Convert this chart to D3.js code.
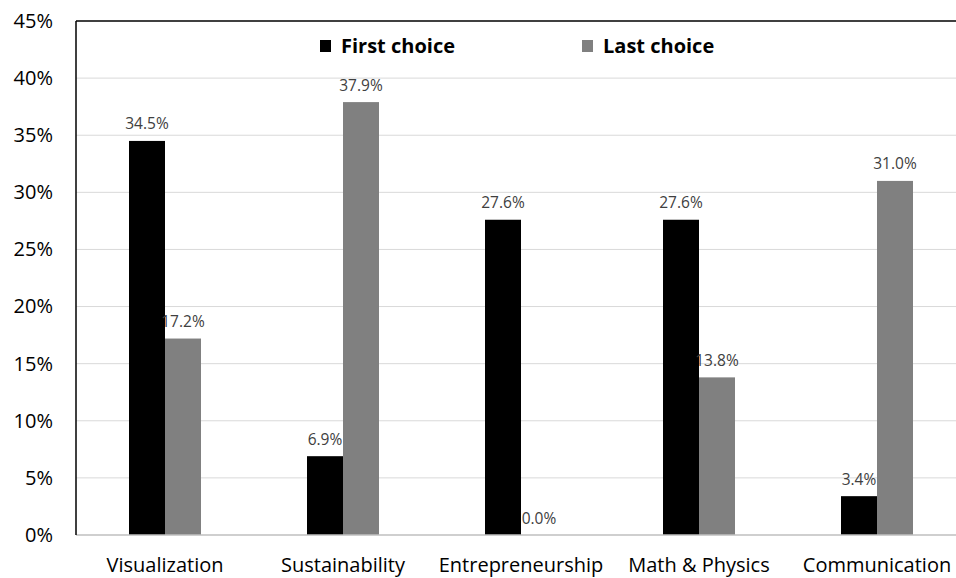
<!DOCTYPE html>
<html>
<head>
<meta charset="utf-8">
<script src="https://cdn.jsdelivr.net/npm/d3@7"></script>
<style>
  body { margin: 0; background: #fff; }
  svg { display: block; font-family: "Open Sans", sans-serif; }
</style>
</head>
<body>
<div id="chart"></div>
<script>
// chart data
const categories = ["Visualization", "Sustainability", "Entrepreneurship", "Math & Physics", "Communication"];
const seriesNames = ["First choice", "Last choice"];
const firstChoice = [34.5, 6.9, 27.6, 27.6, 3.4];
const lastChoice = [17.2, 37.9, 0.0, 13.8, 31.0];
const yTicks = [0, 5, 10, 15, 20, 25, 30, 35, 40, 45];
const colors = ["#000000", "#808080"];

const width = 956, height = 578;
const margin = {top: 21, right: -10, bottom: 43, left: 76};
const innerW = width - margin.left - margin.right;
const innerH = height - margin.top - margin.bottom;

const svg = d3.select('#chart').append('svg')
    .attr('width', width)
    .attr('height', height);

const g = svg.append('g')
    .attr('transform', 'translate(' + margin.left + ',' + margin.top + ')');

const x = d3.scaleBand().domain(categories).range([0, innerW]).paddingInner(0).paddingOuter(0);
const y = d3.scaleLinear().domain([0, 45]).range([innerH, 0]);
const barW = 36;

// gridlines
g.selectAll('.grid').data(yTicks.slice(1, -1)).enter().append('line')
    .attr('x1', 0).attr('x2', innerW)
    .attr('y1', d => y(d)).attr('y2', d => y(d))
    .attr('stroke', '#d9d9d9').attr('stroke-width', 1);

// y axis labels
const yAxis = d3.axisLeft(y).tickValues(yTicks).tickFormat(d => d + '%').tickSize(0).tickPadding(23);
g.append('g').call(yAxis)
    .call(a => a.select('.domain').remove())
    .selectAll('text')
    .style('font-size', '20px')
    .style('fill', '#000')
    .style('font-family', '"Open Sans", sans-serif');

// x axis labels
const xAxis = d3.axisBottom(x).tickSize(0).tickPadding(23);
g.append('g').attr('transform', 'translate(0,' + innerH + ')').call(xAxis)
    .call(a => a.select('.domain').remove())
    .selectAll('text')
    .style('font-size', '20px')
    .style('fill', '#000')
    .style('font-family', '"Open Sans", sans-serif');

// bars
const series = [firstChoice, lastChoice];
series.forEach((vals, s) => {
    g.selectAll('.bar' + s).data(vals).enter().append('rect')
        .attr('x', (d, i) => x(categories[i]) + x.bandwidth() / 2 - barW + s * barW)
        .attr('y', d => y(d))
        .attr('width', barW)
        .attr('height', d => innerH - y(d))
        .attr('fill', colors[s]);

    g.selectAll('.lab' + s).data(vals).enter().append('text')
        .attr('x', (d, i) => x(categories[i]) + x.bandwidth() / 2 - barW / 2 + s * barW)
        .attr('y', d => y(d) - 11.5)
        .attr('text-anchor', 'middle')
        .style('font-size', '15.5px')
        .style('fill', '#404040')
        .text(d => d.toFixed(1) + '%');
});

// frame: bottom gray, left and top black
g.append('line').attr('x1', 0).attr('x2', innerW).attr('y1', innerH).attr('y2', innerH)
    .attr('stroke', '#bfbfbf').attr('stroke-width', 1.5);
g.append('line').attr('x1', 0).attr('x2', 0).attr('y1', 0).attr('y2', innerH)
    .attr('stroke', '#000').attr('stroke-width', 1.5);
g.append('line').attr('x1', 0).attr('x2', innerW).attr('y1', 0).attr('y2', 0)
    .attr('stroke', '#000').attr('stroke-width', 1.5);

// legend
const legendX = [320, 582];
seriesNames.forEach((name, i) => {
    svg.append('rect')
        .attr('x', legendX[i]).attr('y', 40)
        .attr('width', 11).attr('height', 12)
        .attr('fill', colors[i]);
    svg.append('text')
        .attr('x', legendX[i] + 21).attr('y', 53)
        .style('font-size', '20px')
        .style('font-weight', 'bold')
        .style('fill', '#000')
        .text(name);
});
</script>
</body>
</html>
